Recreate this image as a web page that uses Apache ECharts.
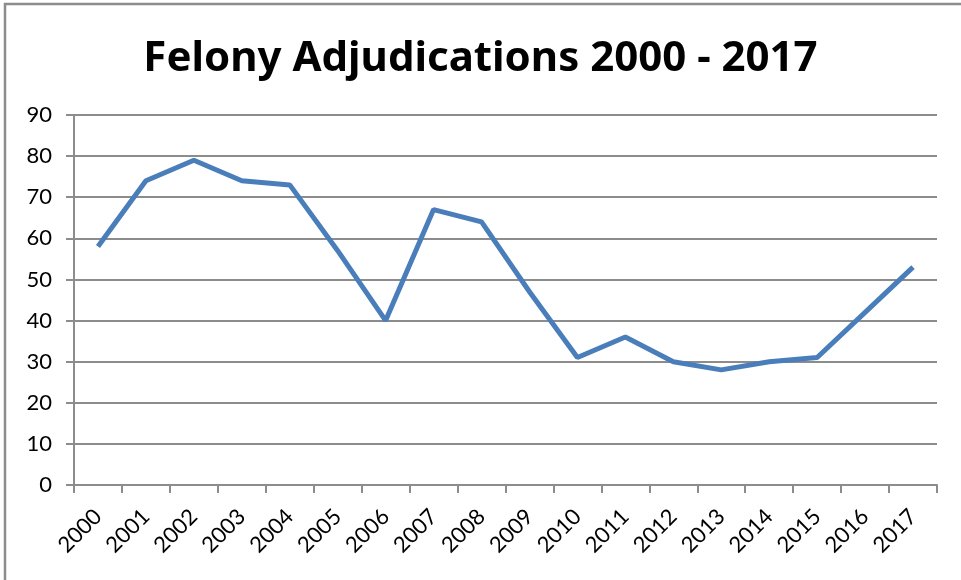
<!DOCTYPE html>
<html><head><meta charset="utf-8">
<script src="https://cdn.jsdelivr.net/npm/echarts@6/dist/echarts.min.js"></script>
<style>html,body{margin:0;padding:0;background:#fff}#c{width:961px;height:580px}</style>
</head><body><div id="c"></div>
<script>
const years = ['2000','2001','2002','2003','2004','2005','2006','2007','2008','2009','2010','2011','2012','2013','2014','2015','2016','2017'];
const adjudications = [58,74,79,74,73,57,40,67,64,47,31,36,30,28,30,31,42,53];
const yTicks = {min:0, max:90, interval:10};
const chart = echarts.init(document.getElementById('c'));
const font = 'Lato';
chart.setOption({
  animation:false,
  backgroundColor:'#fff',
  title:{text:'Felony Adjudications 2000 - 2017', left:'center', top:33,
    textStyle:{fontFamily:'Noto Sans', fontSize:42, fontWeight:'bold', color:'#000'}},
  graphic:[{type:'rect', shape:{x:5,y:4,width:970,height:600}, style:{fill:'none', stroke:'#8c8c8c', lineWidth:2.5}, silent:true}],
  grid:{left:74, right:24, top:115, bottom:95},
  xAxis:{type:'category', data:years,
    axisLine:{lineStyle:{color:'#8c8c8c', width:2}},
    axisTick:{show:true, length:8, lineStyle:{color:'#8c8c8c', width:2}},
    axisLabel:{rotate:45, fontFamily:font, fontSize:22, color:'#000', margin:28, interval:0}},
  yAxis:{type:'value', min:yTicks.min, max:yTicks.max, interval:yTicks.interval,
    axisLine:{show:true, lineStyle:{color:'#8c8c8c', width:2}},
    axisTick:{show:true, length:8, lineStyle:{color:'#8c8c8c', width:2}},
    splitLine:{lineStyle:{color:'#8c8c8c', width:2}},
    axisLabel:{fontFamily:font, fontSize:22, color:'#000', margin:22}},
  series:[{type:'line', data:adjudications, symbol:'none', lineStyle:{color:'#4a7ebb', width:5}}]
});
</script></body></html>
